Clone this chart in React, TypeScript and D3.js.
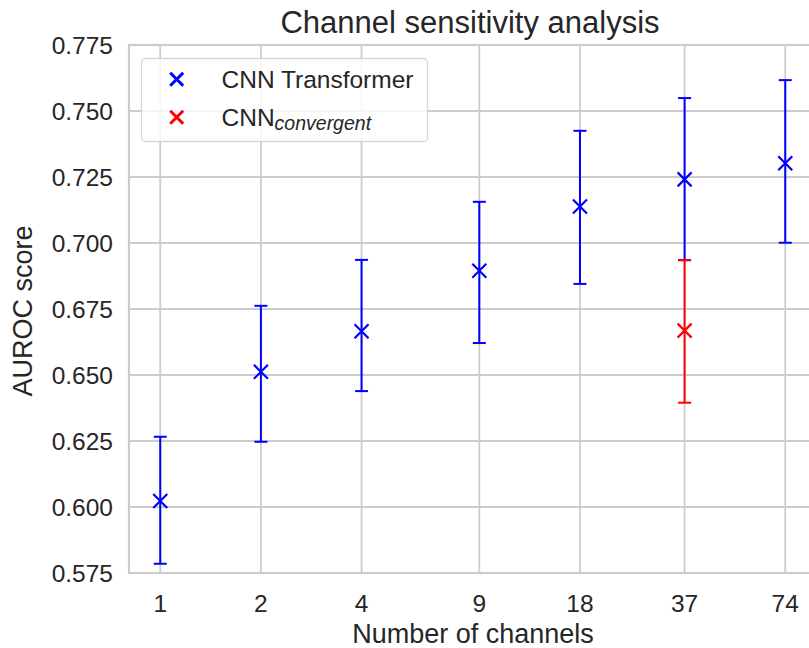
import * as d3 from "d3";

// x positions (number of channels, log2 axis)
const channels = [1, 2, 4, 9, 18, 37, 74];
const xTickLabels = ["1", "2", "4", "9", "18", "37", "74"];

// CNN Transformer: mean AUROC and error bar ends
const transformerMean = [0.6023, 0.6512, 0.6666, 0.6895, 0.7138, 0.7241, 0.7302];
const transformerLow = [0.5785, 0.6247, 0.6439, 0.6621, 0.6845, 0.6935, 0.7001];
const transformerHigh = [0.6266, 0.6762, 0.6936, 0.7156, 0.7425, 0.7549, 0.7617];

// CNN convergent: only one run
const convergentChannels = [37];
const convergentMean = [0.6668];
const convergentLow = [0.6395];
const convergentHigh = [0.6935];

const yTicks = [0.575, 0.6, 0.625, 0.65, 0.675, 0.7, 0.725, 0.75, 0.775];

const W = 809;
const H = 648;
const textColor = "#262626";
const gridColor = "#cccccc";
const font = "'Liberation Sans', Arial, sans-serif";

export default function App() {
  const left = 129;
  const right = 816.5;
  const top = 45;
  const bottom = 573;

  // matplotlib style 5% margin, applied in log space
  const lo = Math.log2(d3.min(channels)!);
  const hi = Math.log2(d3.max(channels)!);
  const pad = (hi - lo) * 0.05;
  const x = d3
    .scaleLog()
    .base(2)
    .domain([Math.pow(2, lo - pad), Math.pow(2, hi + pad)])
    .range([left, right]);
  const y = d3.scaleLinear().domain([0.575, 0.775]).range([bottom, top]);

  const cap = 6.5;
  const mk = 7;

  const series = [
    {
      color: "#0000ff",
      xs: channels,
      mean: transformerMean,
      low: transformerLow,
      high: transformerHigh,
    },
    {
      color: "#ff0000",
      xs: convergentChannels,
      mean: convergentMean,
      low: convergentLow,
      high: convergentHigh,
    },
  ];

  const cross = (cx: number, cy: number, s: number) =>
    `M${cx - s},${cy - s}L${cx + s},${cy + s}M${cx - s},${cy + s}L${cx + s},${cy - s}`;

  const midY = (top + bottom) / 2;

  return (
    <svg
      width={W}
      height={H}
      style={{ position: "absolute", left: 0, top: 0, background: "#fff" }}
      fontFamily={font}
    >
      <rect x={0} y={0} width={W} height={H} fill="#fff" />
      {/* grid */}
      {yTicks.map((t) => (
        <line
          key={"gy" + t}
          x1={left}
          x2={right}
          y1={y(t)}
          y2={y(t)}
          stroke={gridColor}
          strokeWidth={1.8}
        />
      ))}
      {channels.map((c) => (
        <line
          key={"gx" + c}
          x1={x(c)}
          x2={x(c)}
          y1={top}
          y2={bottom}
          stroke={gridColor}
          strokeWidth={1.8}
        />
      ))}
      {/* spines */}
      <rect
        x={left}
        y={top}
        width={right - left}
        height={bottom - top}
        fill="none"
        stroke={gridColor}
        strokeWidth={2.2}
      />

      {/* error bars and markers */}
      {series.map((s, si) => (
        <g key={"s" + si} stroke={s.color} strokeWidth={2} fill="none">
          {s.xs.map((c, i) => {
            const cx = x(c);
            return (
              <g key={i}>
                <line x1={cx} x2={cx} y1={y(s.low[i])} y2={y(s.high[i])} />
                <line x1={cx - cap} x2={cx + cap} y1={y(s.low[i])} y2={y(s.low[i])} />
                <line x1={cx - cap} x2={cx + cap} y1={y(s.high[i])} y2={y(s.high[i])} />
                <path d={cross(cx, y(s.mean[i]), mk)} strokeWidth={2.2} />
              </g>
            );
          })}
        </g>
      ))}

      {/* y ticks */}
      {yTicks.map((t) => (
        <text
          key={"ty" + t}
          x={113}
          y={y(t)}
          dy="0.35em"
          textAnchor="end"
          fontSize={24.5}
          fill={textColor}
        >
          {d3.format(".3f")(t)}
        </text>
      ))}
      {/* x ticks */}
      {channels.map((c, i) => (
        <text
          key={"tx" + c}
          x={x(c)}
          y={612}
          textAnchor="middle"
          fontSize={24.5}
          fill={textColor}
        >
          {xTickLabels[i]}
        </text>
      ))}

      {/* axis labels and title */}
      <text x={473} y={642.5} textAnchor="middle" fontSize={27} fill={textColor}>
        Number of channels
      </text>
      <text
        transform={`translate(32,${midY + 2}) rotate(-90)`}
        textAnchor="middle"
        fontSize={27}
        fill={textColor}
      >
        AUROC score
      </text>
      <text x={470} y={33} textAnchor="middle" fontSize={31} fill={textColor}>
        Channel sensitivity analysis
      </text>

      {/* legend */}
      <g>
        <rect
          x={141.5}
          y={58.5}
          width={286}
          height={83}
          rx={4}
          fill="#ffffff"
          fillOpacity={0.8}
          stroke="#d6d6d6"
          strokeWidth={1.3}
        />
        <path d={cross(176.7, 79.3, 6.5)} stroke="#0000ff" strokeWidth={3} />
        <path d={cross(176.7, 117.3, 6.5)} stroke="#ff0000" strokeWidth={3} />
        <text x={221.5} y={88} fontSize={24.5} fill={textColor}>
          CNN Transformer
        </text>
        <text x={221.5} y={126} fontSize={24.5} fill={textColor}>
          CNN
          <tspan fontStyle="italic" fontSize={19.5} dy={3.5}>
            convergent
          </tspan>
        </text>
      </g>
    </svg>
  );
}
